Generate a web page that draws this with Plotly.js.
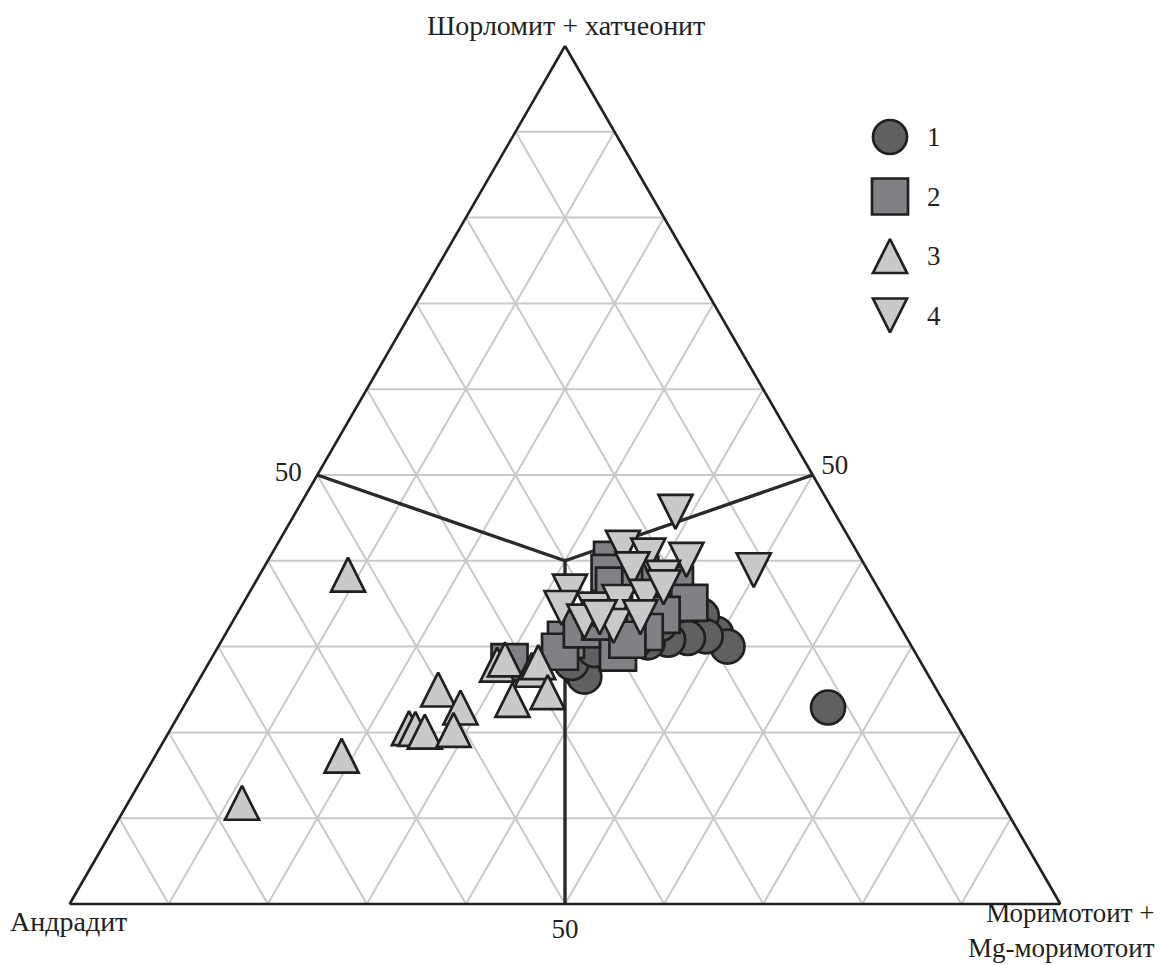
<!DOCTYPE html>
<html>
<head>
<meta charset="utf-8">
<script src="https://cdn.plot.ly/plotly-3.0.1.min.js"></script>
<style>
  html, body { margin: 0; padding: 0; background: #fff; }
  #chart { width: 1166px; height: 965px; }
</style>
</head>
<body>
<div id="chart"></div>
<script>
// Garnet end-member proportions, %:
// A — шорломит + хатчеонит, B — андрадит, C — моримотоит + Mg-моримотоит
const groupLabels = ['1', '2', '3', '4'];

const g1A = [22.9, 31.5, 30.0, 33.6, 31.2, 31.0, 30.8, 30.5, 27.2, 26.5, 28.1, 30.8, 31.4, 32.6, 29.6];
const g1B = [12.0, 19.0, 18.6, 19.4, 20.2, 22.1, 24.2, 26.4, 34.9, 34.8, 35.3, 27.4, 29.2, 24.1, 32.2];
const g1C = [65.1, 49.5, 51.4, 47.0, 48.6, 46.9, 45.0, 43.1, 37.9, 38.7, 36.6, 41.8, 39.4, 43.3, 38.2];

const g2A = [40.1, 38.6, 37.1, 38.4, 37.8, 37.2, 35.1, 29.3, 30.8, 29.4, 32.0, 28.2, 33.7, 31.7, 32.9, 30.8];
const g2B = [25.2, 26.2, 26.5, 23.2, 21.5, 20.3, 19.9, 30.0, 34.5, 35.8, 32.3, 41.5, 23.4, 26.1, 30.0, 28.3];
const g2C = [34.7, 35.2, 36.4, 38.4, 40.7, 42.5, 45.0, 40.7, 34.7, 34.8, 35.7, 30.3, 42.9, 42.2, 37.1, 40.9];

const g3A = [38.4, 17.3, 11.8, 25.0, 22.9, 20.5, 20.4, 20.1, 20.3, 27.9, 28.5, 27.3, 28.2, 23.8, 24.7];
const g3B = [52.7, 63.9, 76.7, 50.3, 49.1, 55.5, 54.9, 54.1, 51.1, 42.9, 41.8, 39.7, 38.6, 43.4, 39.4];
const g3C = [8.9, 18.8, 11.5, 24.7, 28.0, 24.0, 24.7, 25.8, 28.6, 29.2, 29.7, 33.0, 33.2, 32.8, 35.9];

const g4A = [45.7, 41.5, 40.1, 38.9, 40.6, 39.0, 38.0, 36.4, 34.5, 34.3, 35.2, 35.8, 36.9, 32.9, 32.4, 33.4, 33.4];
const g4B = [16.0, 23.4, 17.7, 11.5, 21.3, 23.7, 21.1, 31.3, 33.1, 29.9, 26.9, 23.9, 21.6, 31.6, 28.9, 25.7, 29.8];
const g4C = [38.3, 35.1, 42.2, 49.6, 38.1, 37.3, 40.9, 32.3, 32.4, 35.8, 37.9, 40.3, 41.5, 35.5, 38.7, 40.9, 36.8];

// Field boundaries: edge midpoints joined at the point A=40, B=30, C=30
const fieldA = [50, 40, 50, null, 0, 40];
const fieldB = [50, 30, 0, null, 50, 30];
const fieldC = [0, 30, 50, null, 50, 30];

const gridTicks = [10, 20, 30, 40, 50, 60, 70, 80, 90];
const gridTickText = ['', '', '', '', '50', '', '', '', ''];

const apexTop = 'Шорломит + хатчеонит';
const apexLeft = 'Андрадит';
const apexRight = ['Моримотоит +', 'Mg-моримотоит'];

// ---- styling ----
const W = 1166, H = 965;
const INK = '#231f20';
const FONT = 'Liberation Serif, Times New Roman, serif';
const outline = { color: INK, width: 2.7 };

const symbols = [
  { symbol: 'circle', size: 34, color: '#606062', line: outline },
  { symbol: 'square', size: 36, color: '#808184', line: outline },
  { symbol: 'arrow-down', angle: 180, standoff: 17, size: 34, color: '#c8c9cb', line: outline },
  { symbol: 'arrow-down', angle: 0, standoff: 17, size: 34, color: '#c8c9cb', line: outline }
];

const groups = [[g1A, g1B, g1C], [g2A, g2B, g2C], [g3A, g3B, g3C], [g4A, g4B, g4C]];

const traces = [{
  type: 'scatterternary', mode: 'lines',
  a: fieldA, b: fieldB, c: fieldC,
  line: { color: '#2a2a2a', width: 3.4 },
  hoverinfo: 'skip', showlegend: false
}];

groups.forEach(function (g, i) {
  traces.push({
    type: 'scatterternary', mode: 'markers',
    name: groupLabels[i],
    a: g[0], b: g[1], c: g[2],
    marker: symbols[i],
    showlegend: false
  });
});

// Legend drawn on a hidden full-page cartesian frame (pixel units)
const legendX = 890, legendTextX = 925, legendTop = 137, legendStep = 59.5;
groupLabels.forEach(function (lab, i) {
  traces.push({
    type: 'scatter', mode: 'markers',
    x: [legendX], y: [legendTop + i * legendStep],
    marker: symbols[i],
    hoverinfo: 'skip', showlegend: false, cliponaxis: false
  });
});

// side axes get an invisible tick so their "50" sits a little further out
function ternAxis(tickLen) {
  return {
    tickmode: 'array', tickvals: gridTicks, ticktext: gridTickText,
    ticks: tickLen ? 'outside' : '', ticklen: tickLen, tickwidth: 0,
    tickcolor: 'rgba(0,0,0,0)', showticklabels: true,
    tickfont: { family: FONT, size: 27, color: INK },
    showgrid: true, gridcolor: '#c9c9c9', gridwidth: 2,
    showline: true, linecolor: INK, linewidth: 2.6,
    min: 0, title: { text: '' }
  };
}

const annotations = [
  { text: apexTop, x: 566, y: 25, font: { family: FONT, size: 28, color: INK } },
  { text: apexLeft, x: 68, y: 921, font: { family: FONT, size: 28, color: INK } },
  { text: apexRight.join('<br>'), x: 1156, y: 930, xanchor: 'right', align: 'right',
    font: { family: FONT, size: 27, color: INK } }
].map(function (a) {
  return Object.assign({
    xref: 'x', yref: 'y', showarrow: false,
    xanchor: 'center', yanchor: 'middle', borderpad: 0
  }, a);
});

groupLabels.forEach(function (lab, i) {
  annotations.push({
    text: lab, xref: 'x', yref: 'y', showarrow: false,
    x: legendTextX, y: legendTop + i * legendStep,
    xanchor: 'left', yanchor: 'middle',
    font: { family: FONT, size: 27, color: INK }
  });
});

const layout = {
  width: W, height: H,
  margin: { l: 0, r: 0, t: 0, b: 0 },
  paper_bgcolor: '#fff', plot_bgcolor: 'rgba(0,0,0,0)',
  showlegend: false,
  xaxis: { range: [0, W], visible: false, fixedrange: true, domain: [0, 1] },
  yaxis: { range: [H, 0], visible: false, fixedrange: true, domain: [0, 1] },
  ternary: {
    sum: 100,
    bgcolor: 'rgba(0,0,0,0)',
    domain: { x: [69 / W, 1061 / W], y: [1 - 904 / H, 1 - 46 / H] },
    aaxis: ternAxis(11), baxis: ternAxis(0), caxis: ternAxis(8)
  },
  annotations: annotations
};

Plotly.newPlot('chart', traces, layout, { staticPlot: true, displayModeBar: false });
</script>
</body>
</html>
